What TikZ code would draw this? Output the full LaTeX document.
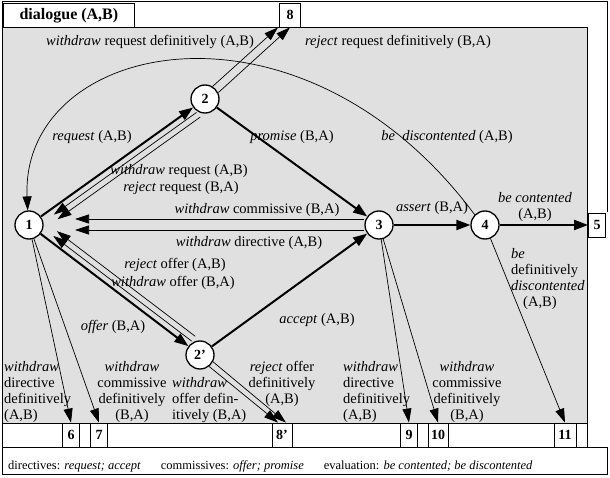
\documentclass[tikz,border=0pt]{standalone}
\usepackage{fontspec}
\setmainfont{Liberation Serif}
\usetikzlibrary{arrows.meta,calc}
\begin{document}
\begin{tikzpicture}[x=1pt,y=-1pt,
  st/.style={circle,draw,line width=1.3pt,fill=white,minimum size=28pt,inner sep=0pt,font=\fontsize{14}{14}\selectfont\bfseries},
  bx/.style={draw,line width=0.8pt,fill=white,minimum height=24pt,minimum width=17pt,inner sep=2pt,font=\fontsize{14}{14}\selectfont\bfseries},
  thk/.style={line width=2pt,-{Triangle[length=14pt,width=10pt]}},
  thn/.style={line width=0.7pt,-{Triangle[length=14pt,width=9pt]}},
  lb/.style={font=\fontsize{14.5}{16}\selectfont,inner sep=1pt,align=center}]
\useasboundingbox (0,0) rectangle (610,478);
\draw[line width=0.8pt] (2,1) -- (607,1) -- (607,212);
\draw[line width=0.8pt] (2,1) -- (2,27);
\draw[line width=0.8pt,fill=black!12] (2,27) rectangle (587,423);
\draw[line width=0.8pt,fill=white] (2,423) rectangle (587,447);
\draw[line width=0.8pt,fill=white] (2,447) rectangle (607,474);
\node[draw,line width=0.8pt,fill=white,minimum height=24pt,minimum width=131pt,inner sep=2pt,anchor=north west,font=\fontsize{16}{16}\selectfont\bfseries] (title) at (3,3) {dialogue (A,B)};
\node[font=\fontsize{12.5}{14}\selectfont,anchor=west,inner sep=0pt] (legend) at (8,466) {directives: \textit{request; accept}\hspace{20pt}commissives: \textit{offer; promise}\hspace{20pt}evaluation: \textit{be contented; be discontented}};

\node[st] (n1) at (29,225) {1};
\node[st] (n2) at (205,99) {2};
\node[st] (n3) at (379,225) {3};
\node[st] (n4) at (485,225) {4};
\node[st] (n2p) at (200,355) {2’};

\node[bx,minimum width=21pt] (b8) at (290,15) {8};
\node[bx] (b5) at (597,225) {5};
\node[bx] (b6) at (71,435) {6};
\node[bx] (b7) at (99,435) {7};
\node[bx,minimum width=20pt] (b8p) at (282,435) {8’};
\node[bx] (b9) at (409,435) {9};
\node[bx,minimum width=20pt] (b10) at (438,435) {10};
\node[bx,minimum width=22pt] (b11) at (565,435) {11};

% 1 <-> 2
\draw[thk] (n1) -- (n2);
\draw[thn,shorten <=15pt,shorten >=26pt] ([xshift=3.7pt,yshift=-4.7pt]n2.center) -- ([xshift=3.7pt,yshift=-4.7pt]n1.center);
\draw[thn,shorten <=15pt,shorten >=26pt] ([xshift=7.4pt,yshift=-9.4pt]n2.center) -- ([xshift=7.4pt,yshift=-9.4pt]n1.center);
% 2 -> 8
\draw[thn,shorten <=14pt] ([xshift=-3pt,yshift=3pt]n2.center) -- ($(b8.south)+(-12,0)$);
\draw[thn,shorten <=14pt] ([xshift=3pt,yshift=-3pt]n2.center) -- ($(b8.south)+(0,0)$);
% 2 -> 3
\draw[thk] (n2) -- (n3);
% 3 -> 1
\draw[thn,shorten <=15pt,shorten >=46pt] ([yshift=6pt]n3.center) -- ([yshift=6pt]n1.center);
\draw[thn,shorten <=15pt,shorten >=46pt] ([yshift=-5pt]n3.center) -- ([yshift=-5pt]n1.center);
% 3 -> 4 -> 5
\draw[thk] (n3) -- (n4);
\draw[thk] (n4) -- (b5);
% 4 -> 1 curve
\draw[thn] (n4.135) .. controls (300,-20) and (20,40) .. (n1.95);
% 4 -> 11
\draw[thn] (n4) -- (b11.north);
% 1 <-> 2'
\draw[thk] (n1) -- (n2p);
\draw[thn,shorten <=15pt,shorten >=26pt] ([xshift=3.6pt,yshift=4.8pt]n2p.center) -- ([xshift=3.6pt,yshift=4.8pt]n1.center);
\draw[thn,shorten <=15pt,shorten >=26pt] ([xshift=7.2pt,yshift=9.6pt]n2p.center) -- ([xshift=7.2pt,yshift=9.6pt]n1.center);
% 2' -> 3
\draw[thk] (n2p) -- (n3);
% 2' -> 8'
\draw[thn,shorten <=14pt] ([xshift=-2pt,yshift=-2.4pt]n2p.center) -- ($(b8p.north)+(-4,0)$);
\draw[thn,shorten <=14pt] ([xshift=2pt,yshift=2.4pt]n2p.center) -- ($(b8p.north)+(4,0)$);
% 1 -> 6,7 ; 3 -> 9,10
\draw[thn] (n1) -- (b6.north);
\draw[thn] (n1) -- (b7.north);
\draw[thn] (n3) -- (b9.north);
\draw[thn] (n3) -- (b10.north);

% labels
\node[lb] (l1) at (150,42) {\textit{withdraw} request definitively (A,B)};
\node[lb] (l2) at (398,42) {\textit{reject} request definitively (B,A)};
\node[lb] (l3) at (92,137) {\textit{request} (A,B)};
\node[lb] (l4) at (292,137) {\textit{promise} (B,A)};
\node[lb] (l5) at (447,137) {\textit{be\ \ discontented} (A,B)};
\node[lb] (l6) at (179,171) {\textit{withdraw} request (A,B)};
\node[lb] (l7) at (181,188) {\textit{reject} request (B,A)};
\node[lb] (l8) at (257,210) {\textit{withdraw} commissive (B,A)};
\node[lb] (l9) at (249,243) {\textit{withdraw} directive (A,B)};
\node[lb] (l10) at (432,208) {\textit{assert} (B,A)};
\node[lb] (l11) at (535,207) {\textit{be contented}\\(A,B)};
\node[lb,align=left,anchor=north west] (l12) at (510,247) {\textit{be}\\definitively\\\textit{discontented}\\\hspace*{12pt}(A,B)};
\node[lb] (l13) at (175,265) {\textit{reject} offer (A,B)};
\node[lb] (l14) at (173,283) {\textit{withdraw} offer (B,A)};
\node[lb] (l15) at (113,327) {\textit{offer} (B,A)};
\node[lb] (l16) at (317,320) {\textit{accept} (A,B)};
\node[lb,align=left,anchor=north west] (l17) at (3,360) {\textit{withdraw}\\directive\\definitively\\(A,B)};
\node[lb,anchor=north] (l18) at (132,360) {\textit{withdraw}\\commissive\\definitively\\(B,A)};
\node[lb,align=left,anchor=north west] (l19) at (171,376) {\textit{withdraw}\\offer defin-\\itively (B,A)};
\node[lb,anchor=north] (l20) at (282,360) {\textit{reject} offer\\definitively\\(A,B)};
\node[lb,align=left,anchor=north west] (l21) at (342,360) {\textit{withdraw}\\directive\\definitively\\(A,B)};
\node[lb,anchor=north] (l22) at (467,360) {\textit{withdraw}\\commissive\\definitively\\(B,A)};
\end{tikzpicture}
\end{document}
